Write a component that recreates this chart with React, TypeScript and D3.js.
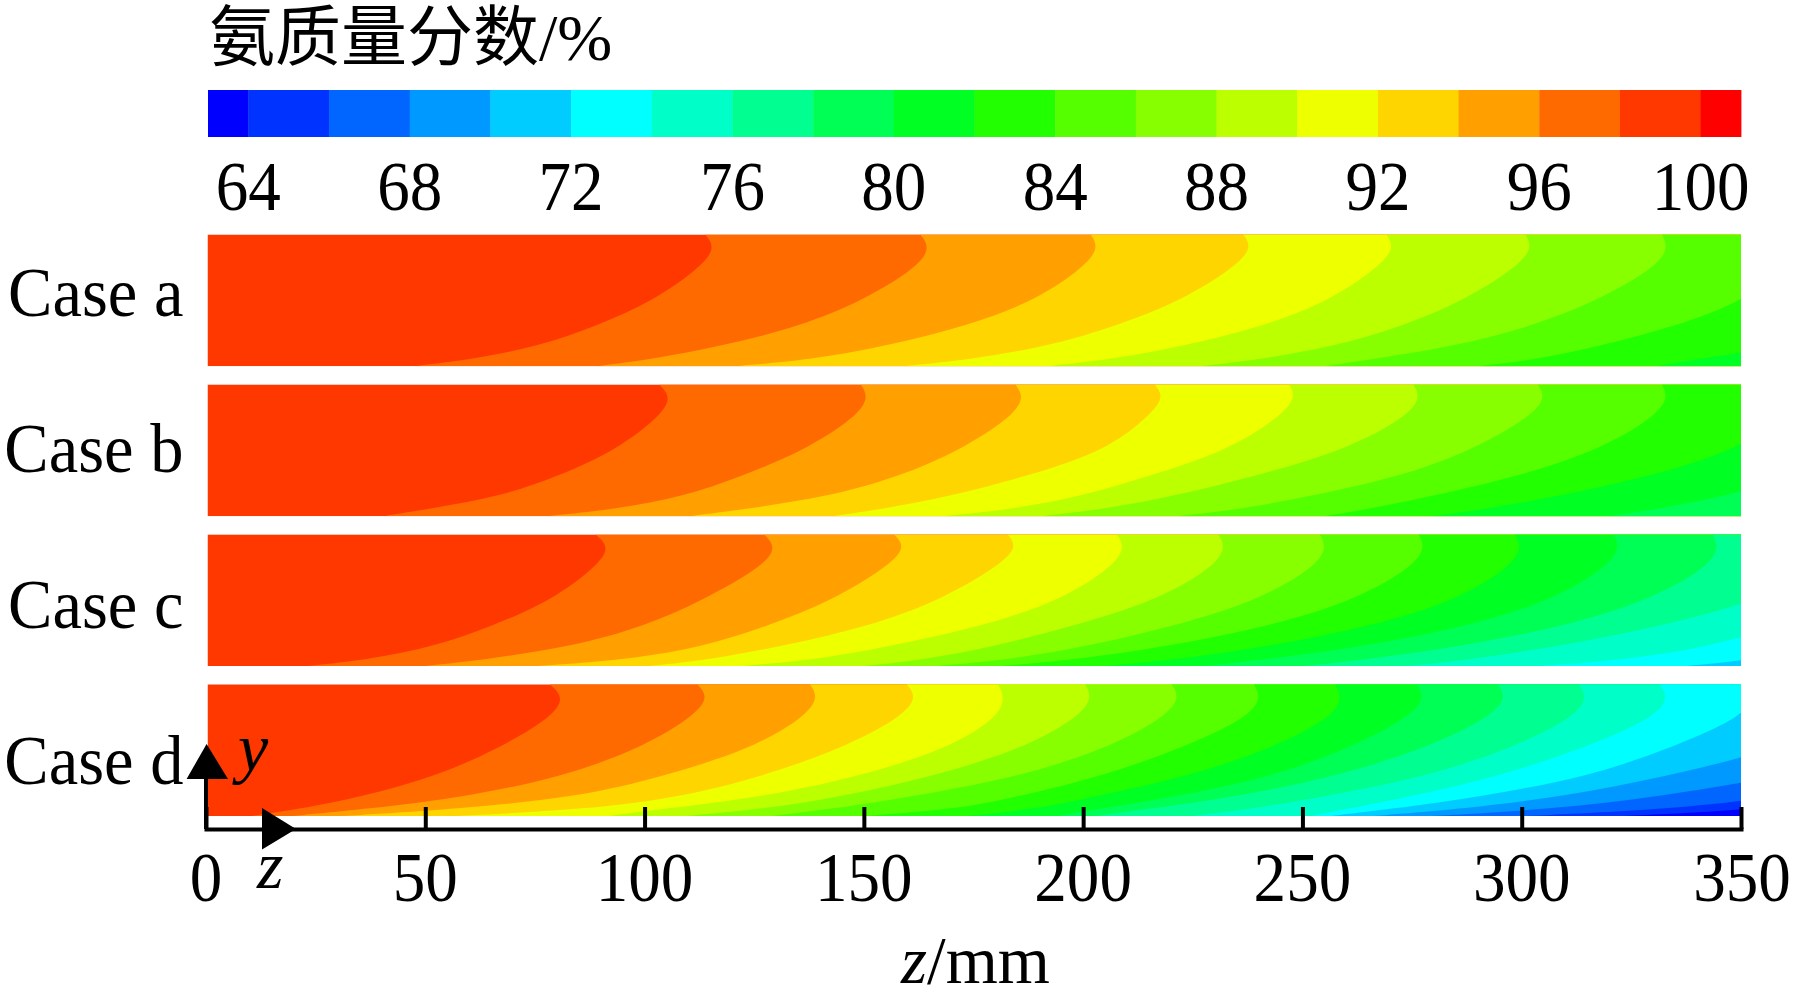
import { useRef, useEffect } from 'react';
import * as d3 from 'd3';

const width = 1795;
const height = 1004;

// colour bar: one band per entry, low to high
const bandEdges = [63, 64, 66, 68, 70, 72, 74, 76, 78, 80, 82, 84, 86, 88, 90, 92, 94, 96, 98, 100, 101];
const bandColors = [
  '#0000ff', '#0033ff', '#0066ff', '#0099ff', '#00ccff', '#00ffff', '#00ffc8', '#00ff90', '#00ff55', '#00ff22',
  '#22ff00', '#55ff00', '#88ff00', '#bbff00', '#eeff00', '#ffd500', '#ffa000', '#ff6a00', '#ff3800', '#ff0000',
];
const barTicks = [64, 68, 72, 76, 80, 84, 88, 92, 96, 100];
const zTicks = [0, 50, 100, 150, 200, 250, 300, 350];
const caseNames = ['Case a', 'Case b', 'Case c', 'Case d'];
const caseBaselines = [316, 472, 628, 784];

// height across the channel (1 = top edge, 0 = wall) where each contour was read
const heights = [1, 0.9, 0.75, 0.5, 0.3, 0.15, 0.05, 0];

// z (mm) of each contour at those heights, first row = 98 %, then 96 %, 94 % ...
// values above 350 lie outside the panel and get clipped
const caseA = [
  [113.6, 116, 112.5, 102, 88.5, 75.5, 60, 47.2],
  [162.7, 165, 162, 149.7, 135.1, 117, 100.8, 89],
  [201.6, 203.5, 200, 189.1, 173, 154.4, 138, 120.6],
  [236.4, 238.5, 234.4, 222.4, 207.1, 191.8, 174, 159],
  [269.1, 271, 267.2, 256.3, 241, 222.4, 206, 191.8],
  [300.8, 302.5, 298.8, 286.8, 272.6, 257.3, 239.9, 226.8],
  [331.9, 333.5, 330.5, 317.4, 302.1, 284.6, 265, 255.2],
  [362, 363, 360, 351, 334.9, 317.4, 303.2, 290.1],
  [406, 407, 404, 392, 375, 360, 339, 331],
];
const caseB = [
  [103.1, 106, 103, 93.2, 79.8, 67, 49.5, 40.2],
  [149.1, 151, 147.9, 136.3, 121.7, 108.9, 92.6, 77.5],
  [184.4, 186.5, 183.4, 171.8, 157.8, 142.1, 122, 110.1],
  [216.2, 218.5, 214.5, 205.2, 186.7, 169.5, 153.2, 142.7],
  [246.9, 248.5, 244.6, 233, 214.5, 199.4, 183.2, 168],
  [275.2, 277, 273.5, 259.6, 238.8, 220.3, 204, 190.2],
  [303.6, 305.5, 301.8, 288.5, 272.3, 251.5, 235.3, 221.4],
  [331.9, 333.5, 330.2, 317.5, 299, 279.3, 264.2, 255],
  [362, 363, 360, 348.7, 329, 308.2, 290.9, 279.3],
  [391, 392, 390, 378, 362, 346.4, 330.2, 319.8],
];
const caseC = [
  [88.5, 92, 88.5, 78.6, 64.7, 51.9, 36.7, 22.8],
  [127, 130, 126.4, 113, 99.6, 83.3, 63.5, 49.5],
  [156.7, 159.5, 154.9, 142.7, 127.5, 113.6, 96.1, 75.2],
  [182.6, 185, 180, 167.2, 150.8, 131, 114.7, 100.8],
  [207.5, 209.5, 206.4, 194.8, 176.7, 155.5, 139.2, 121.7],
  [230.7, 232.5, 229.5, 216.8, 197.1, 179.7, 163.7, 149.7],
  [253.8, 255.5, 252.7, 239.9, 220.3, 200.6, 183.2, 166],
  [276.4, 278, 274.9, 261.9, 242.2, 219.1, 198.3, 180.9],
  [298.4, 300, 297.2, 285.1, 265.4, 242.2, 221.4, 204],
  [320.9, 322.5, 319.2, 307, 287.4, 264.2, 241.1, 227.2],
  [343.5, 345, 342.4, 329, 309.4, 286.2, 264.2, 250.3],
  [369, 370, 367, 354.5, 331.4, 308.2, 288.5, 273.5],
  [391, 392, 390, 378, 359, 343, 324.4, 303.6],
  [413, 414, 412, 400, 383, 366, 353.4, 337.2],
];
const caseD = [
  [78.1, 81.5, 78.6, 65.8, 51.9, 35.6, 20.4, 10],
  [111.8, 114.5, 110.7, 97.9, 81, 60, 35.6, 19.3],
  [137.5, 139.5, 136.3, 123.5, 103.7, 85.6, 56.5, 30.9],
  [159.6, 162, 158.4, 143.9, 126.4, 108.9, 86.8, 56.5],
  [180.4, 182, 180.5, 168.3, 148.5, 127.6, 103.1, 91.5],
  [200.3, 202, 198.9, 185.3, 165.4, 145, 126.4, 108.9],
  [220, 222, 218.6, 204.4, 185.3, 161.3, 141.5, 128.7],
  [238.8, 240.5, 237.7, 221.3, 203.8, 185.3, 170.6, 149.7],
  [257.3, 259, 256.8, 242, 223.5, 202.7, 188.5, 173],
  [275.9, 278, 274.3, 259.5, 243.1, 221.3, 202.7, 194],
  [294.5, 296.5, 292.8, 277, 257.3, 235.5, 213.7, 202.7],
  [313, 315, 312, 296.7, 278.1, 255.2, 237.7, 224.6],
  [331.4, 333.5, 330.5, 313, 294.5, 274.8, 259.5, 251.9],
  [352, 353, 350.2, 332.7, 315.2, 291.2, 269.4, 256.3],
  [373, 374, 372, 357.8, 332.7, 309.8, 285.7, 266],
  [393, 394, 392, 380, 360, 331.6, 306.5, 279.2],
  [413, 414, 412, 398, 378, 360, 333.8, 301],
  [430, 431, 428, 412, 392, 372, 354.5, 322.9],
];
const caseContours = [caseA, caseB, caseC, caseD];

const serif = '"Liberation Serif", "Noto Sans CJK SC", serif';

export default function App() {
  const svgRef = useRef<SVGSVGElement>(null);

  useEffect(() => {
    const svg = d3.select(svgRef.current);
    svg.selectAll('*').remove();

    const barX = d3.scaleLinear().domain([63, 101]).range([208, 1741]);
    const panelX = d3.scaleLinear().domain([0, 350]).range([207.5, 1741]);
    const axisX = d3.scaleLinear().domain([0, 350]).range([206, 1741]);
    const panelBand = d3.scaleBand<number>().domain([0, 1, 2, 3]).range([234.5, 834.3]);
    const panelH = 131.7;

    const label = (str: string, x: number, y: number, anchor: string, sx: number, size = 70, style = 'normal') =>
      svg.append('text')
        .attr('transform', `translate(${x},${y}) scale(${sx},1)`)
        .attr('text-anchor', anchor)
        .attr('font-family', serif)
        .attr('font-size', size)
        .attr('font-style', style)
        .attr('fill', '#000')
        .text(str);

    // legend title
    label('氨质量分数/%', 209, 60, 'start', 1, 66);

    // colour bar
    svg.append('g').selectAll('rect').data(bandColors).join('rect')
      .attr('x', (_, i) => barX(bandEdges[i]))
      .attr('width', (_, i) => barX(bandEdges[i + 1]) - barX(bandEdges[i]) + 0.4)
      .attr('y', 90).attr('height', 47)
      .attr('fill', d => d);
    barTicks.forEach(t => label(String(t), barX(t), 209.5, 'middle', 0.93));

    // contour panels, painted from the hot side to the right
    const defs = svg.append('defs');
    caseContours.forEach((contours, c) => {
      const top = panelBand(c)!;
      const y = d3.scaleLinear().domain([0, 1]).range([top + panelH, top]);
      const clipId = `panel-${c}`;
      defs.append('clipPath').attr('id', clipId).append('rect')
        .attr('x', panelX(0)).attr('y', top)
        .attr('width', panelX(350) - panelX(0)).attr('height', panelH);
      const g = svg.append('g').attr('clip-path', `url(#${clipId})`);
      g.append('rect')
        .attr('x', panelX(0)).attr('y', top)
        .attr('width', panelX(350) - panelX(0)).attr('height', panelH)
        .attr('fill', bandColors[18]);
      const area = d3.area<number>()
        .y((_, i) => y(heights[i]))
        .x0(d => panelX(d))
        .x1(() => panelX(500))
        .curve(d3.curveBasis);
      contours.forEach((row, i) => {
        g.append('path').attr('d', area(row)!).attr('fill', bandColors[17 - i]);
      });
      label(caseNames[c], 183.5, caseBaselines[c], 'end', 0.95);
    });

    // z axis, ticks point up into the plot
    const axis = d3.axisBottom(axisX).tickValues(zTicks).tickSizeInner(-22).tickSizeOuter(0).tickFormat(() => '');
    const axisG = svg.append('g').attr('transform', 'translate(0,829)').call(axis);
    axisG.select('.domain').attr('stroke', '#000').attr('stroke-width', 4).attr('stroke-linecap', 'square');
    axisG.selectAll('.tick line').attr('stroke', '#000').attr('stroke-width', 4);
    zTicks.forEach(t => label(String(t), axisX(t) + (t === 350 ? 1 : 0), 901, 'middle', 0.93));

    // y axis stub and direction arrows
    svg.append('line').attr('x1', 206).attr('x2', 206).attr('y1', 775).attr('y2', 829)
      .attr('stroke', '#000').attr('stroke-width', 4);
    svg.append('path').attr('d', 'M206.6,744L228,779L186.6,779Z').attr('fill', '#000');
    svg.append('path').attr('d', 'M262,808L296,829L262,849.5Z').attr('fill', '#000');
    label('y', 238, 771, 'start', 1, 68, 'italic');
    label('z', 257, 888, 'start', 1, 68, 'italic');

    // axis title
    const title = label('', 901, 983, 'start', 1, 67);
    title.append('tspan').attr('font-style', 'italic').text('z');
    title.append('tspan').text('/mm');
  }, []);

  return (
    <svg
      ref={svgRef}
      width={width}
      height={height}
      viewBox={`0 0 ${width} ${height}`}
      style={{ position: 'absolute', left: 0, top: 0, background: '#fff' }}
    />
  );
}
